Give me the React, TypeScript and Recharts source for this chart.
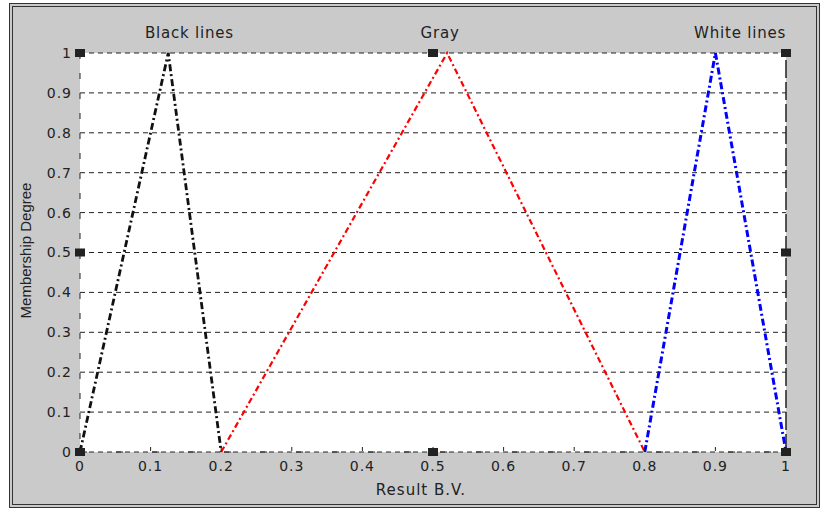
import {
  ComposedChart,
  Line,
  Scatter,
  XAxis,
  YAxis,
  CartesianGrid,
  ReferenceLine,
  ReferenceDot,
} from "recharts";

// membership functions, x = result B.V., y = degree
const BLACK_X = [0, 0.125, 0.2];
const BLACK_Y = [0, 1, 0];
const GRAY_X = [0.2, 0.52, 0.8];
const GRAY_Y = [0, 1, 0];
const WHITE_X = [0.8, 0.9, 1];
const WHITE_Y = [0, 1, 0];

// little square handles
const MARKER_X = [0, 0, 0, 0.5, 0.5, 1, 1, 1];
const MARKER_Y = [0, 0.5, 1, 0, 1, 0, 0.5, 1];

const TICKS = [0, 0.1, 0.2, 0.3, 0.4, 0.5, 0.6, 0.7, 0.8, 0.9, 1];

const TITLES = ["Black lines", "Gray", "White lines"];
const TITLE_X = [0.155, 0.51, 0.935];

const zip = (xs: number[], ys: number[]) => xs.map((x, i) => ({ x, y: ys[i] }));

const blackData = zip(BLACK_X, BLACK_Y);
const grayData = zip(GRAY_X, GRAY_Y);
const whiteData = zip(WHITE_X, WHITE_Y);
const markerData = zip(MARKER_X, MARKER_Y);

const FONT = "'DejaVu Sans', sans-serif";

const fmt = (v: number) => String(Math.round(v * 10) / 10);

function XTick(props: any) {
  const { x, y, payload } = props;
  return (
    <g>
      <line x1={x} x2={x} y1={y - 13} y2={y - 9} stroke="#222" strokeWidth={1} />
      <text
        x={x}
        y={y + 11}
        textAnchor="middle"
        fontFamily={FONT}
        fontSize={14}
        letterSpacing={1}
        fill="#222"
      >
        {fmt(payload.value)}
      </text>
    </g>
  );
}

function SquareMark(props: any) {
  const { cx, cy } = props;
  return <rect x={cx - 5} y={cy - 4} width={10} height={8} fill="#222" />;
}

export default function App() {
  return (
    <div
      style={{
        position: "absolute",
        left: 0,
        top: 0,
        width: 826,
        height: 510,
        background: "#fff",
      }}
    >
      {/* framed gray panel */}
      <div
        style={{
          position: "absolute",
          left: 9,
          top: 3,
          width: 803,
          height: 497,
          border: "4px double #333",
          background: "#cacaca",
        }}
      />

      <div style={{ position: "absolute", left: 0, top: 0 }}>
        <ComposedChart
          width={826}
          height={510}
          margin={{ top: 53, right: 40, bottom: 28, left: 20 }}
        >
          <CartesianGrid
            vertical={false}
            fill="#fff"
            stroke="#222"
            strokeDasharray="5 4"
          />

          <XAxis
            type="number"
            dataKey="x"
            domain={[0, 1]}
            ticks={TICKS}
            height={30}
            tickLine={false}
            axisLine={{ stroke: "#222", strokeDasharray: "7 29" }}
            tick={<XTick />}
            label={{
              value: "Result B.V.",
              position: "insideBottom",
              offset: -13,
              dx: -12,
              style: { fontFamily: FONT, fontSize: 15, letterSpacing: 1, fill: "#222" },
            }}
          />

          <YAxis
            type="number"
            dataKey="y"
            domain={[0, 1]}
            ticks={TICKS}
            width={60}
            tickLine={false}
            axisLine={{ stroke: "#222", strokeDasharray: "6 14" }}
            tickFormatter={fmt}
            tick={{ fontFamily: FONT, fontSize: 14, letterSpacing: 1, fill: "#222" }}
            label={{
              content: (p: any) => {
                const vb = p.viewBox;
                const cx = vb.x + 5;
                const cy = vb.y + vb.height / 2 - 2;
                return (
                  <text
                    x={cx}
                    y={cy}
                    transform={`rotate(-90, ${cx}, ${cy})`}
                    textAnchor="middle"
                    dominantBaseline="central"
                    fontFamily="'Liberation Sans', Arial, sans-serif"
                    fontSize={15}
                    fill="#222"
                  >
                    Membership Degree
                  </text>
                );
              },
            }}
          />

          <ReferenceLine x={1} stroke="#222" strokeWidth={1.5} strokeDasharray="18 4" />

          {TITLES.map((t, i) => (
            <ReferenceDot
              key={t}
              x={TITLE_X[i]}
              y={1}
              r={0}
              fill="none"
              stroke="none"
              label={{
                value: t,
                position: "top",
                offset: 15,
                style: { fontFamily: FONT, fontSize: 15, letterSpacing: 0.8, fill: "#222" },
              }}
            />
          ))}

          <Line
            data={blackData}
            dataKey="y"
            type="linear"
            stroke="#111"
            strokeWidth={2.8}
            strokeDasharray="7 3 2 3"
            dot={false}
            activeDot={false}
            isAnimationActive={false}
          />
          <Line
            data={grayData}
            dataKey="y"
            type="linear"
            stroke="#ff0000"
            strokeWidth={2.2}
            strokeDasharray="6 3 2 3"
            dot={false}
            activeDot={false}
            isAnimationActive={false}
          />
          <Line
            data={whiteData}
            dataKey="y"
            type="linear"
            stroke="#0000ff"
            strokeWidth={3}
            strokeDasharray="7 3 2 3"
            dot={false}
            activeDot={false}
            isAnimationActive={false}
          />

          <Scatter
            data={markerData}
            dataKey="y"
            shape={<SquareMark />}
            isAnimationActive={false}
          />
        </ComposedChart>
      </div>
    </div>
  );
}
